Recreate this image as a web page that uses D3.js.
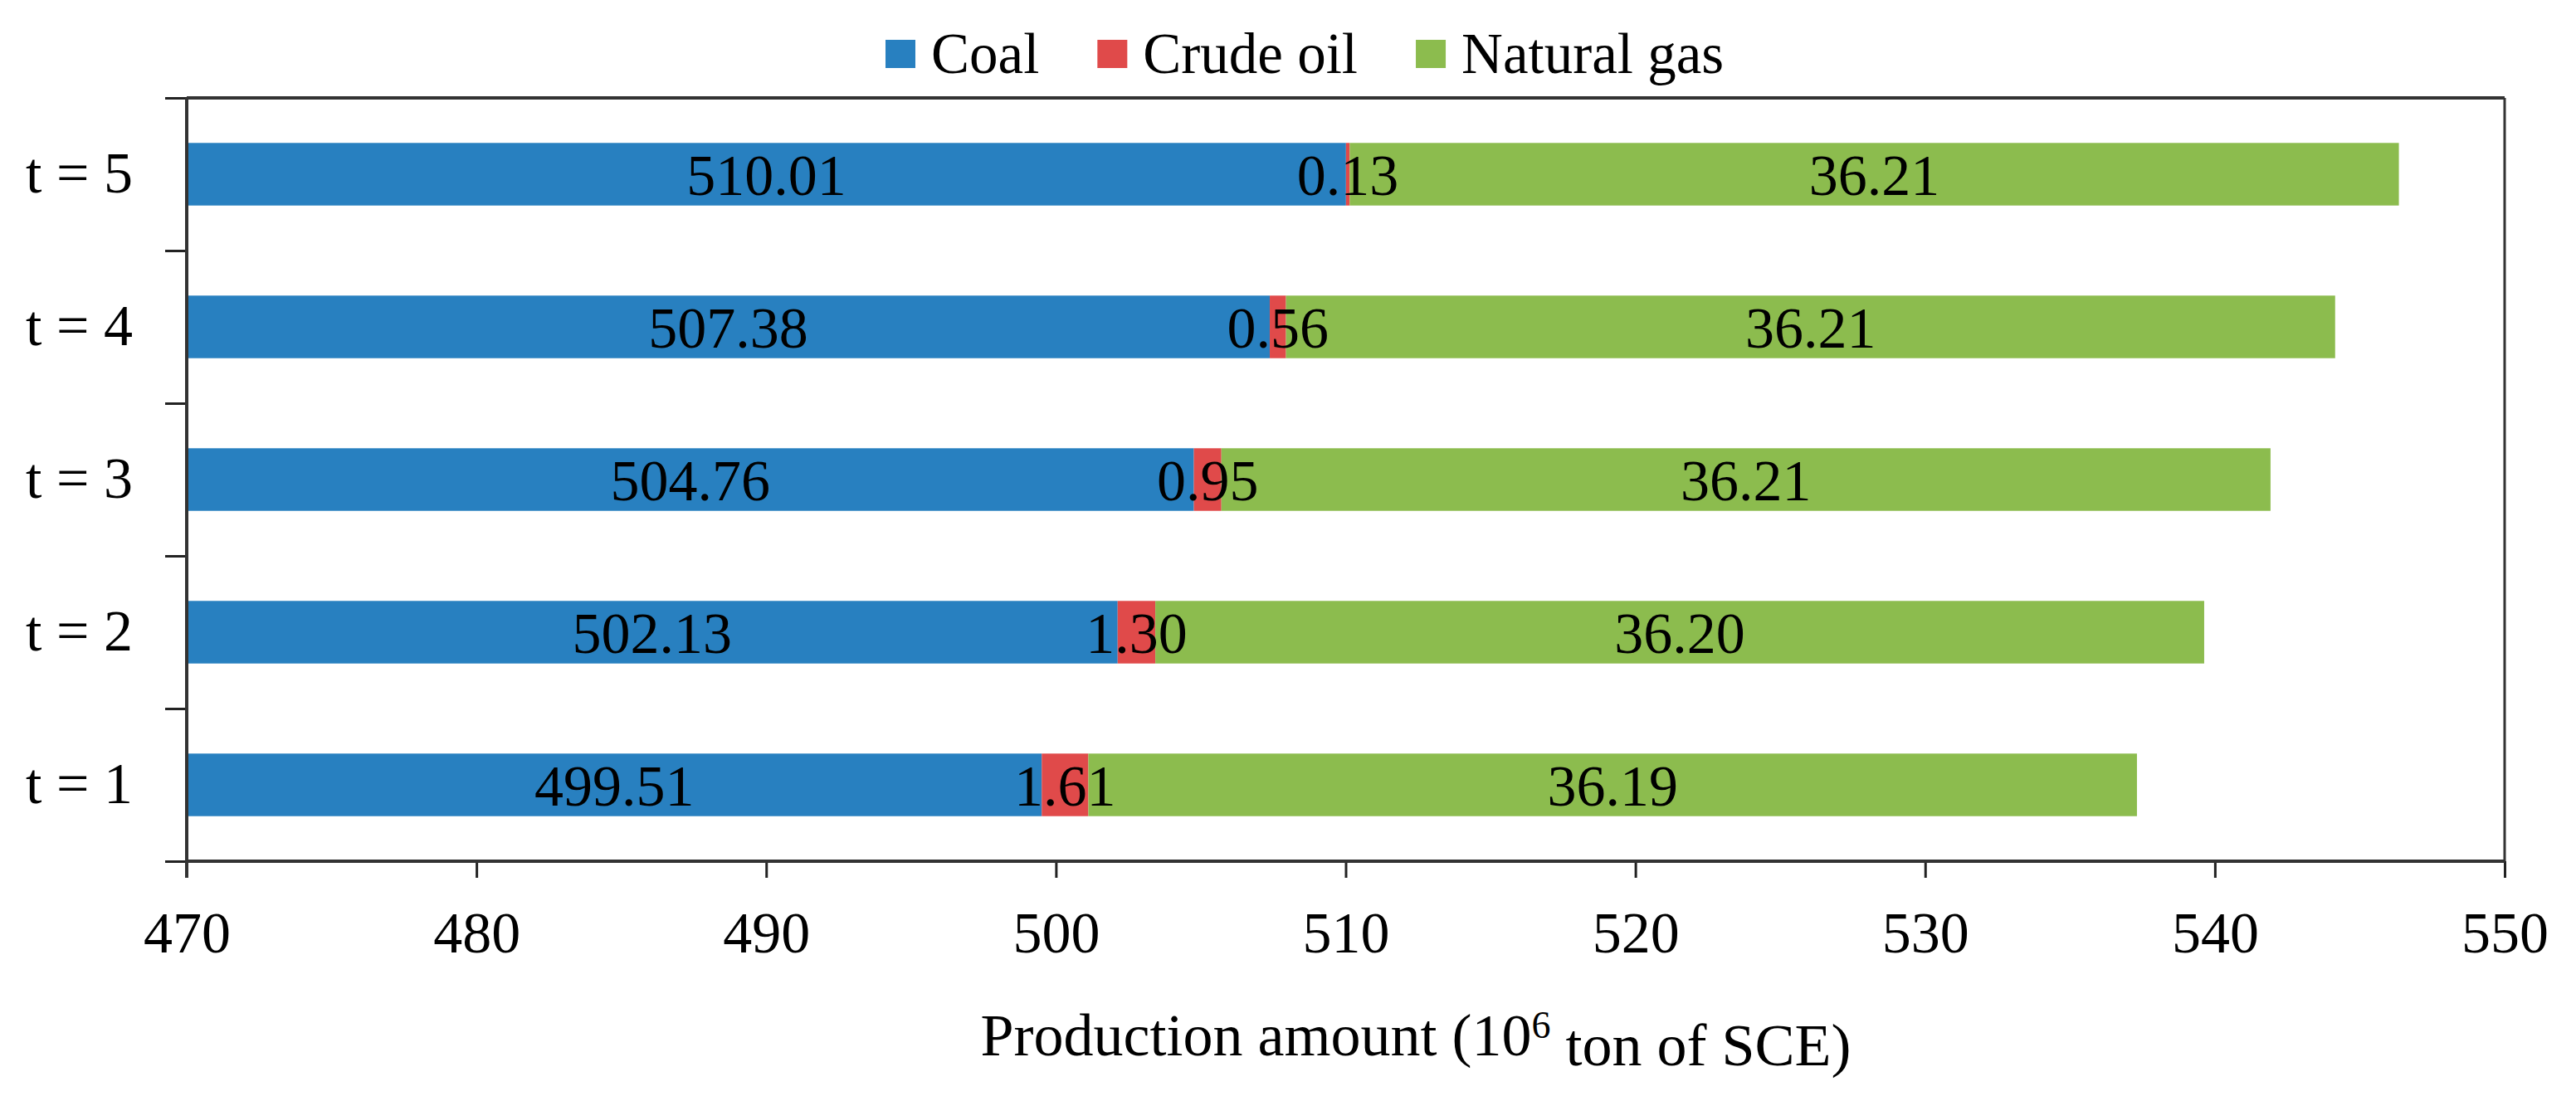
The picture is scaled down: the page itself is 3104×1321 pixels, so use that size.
<!DOCTYPE html>
<html>
<head>
<meta charset="utf-8">
<script src="https://cdn.jsdelivr.net/npm/d3@7"></script>
<style>
  body { margin: 0; background: #fff; }
  text { font-family: "Liberation Serif", "Times New Roman", serif; fill: #000; }
</style>
</head>
<body>
<div id="chart"></div>
<script>
// data, t = 1 .. 5
const periods = ["t = 1", "t = 2", "t = 3", "t = 4", "t = 5"];
const coal = [499.51, 502.13, 504.76, 507.38, 510.01];
const crudeOil = [1.61, 1.30, 0.95, 0.56, 0.13];
const naturalGas = [36.19, 36.20, 36.21, 36.21, 36.21];
const seriesNames = ["Coal", "Crude oil", "Natural gas"];
const seriesKeys = ["coal", "oil", "gas"];
const colors = ["#2880c0", "#e04a4a", "#8cbc4e"];
const xTicks = [470, 480, 490, 500, 510, 520, 530, 540, 550];

const svgWidth = 3104, svgHeight = 1321;
const margin = {top: 118, right: 86, bottom: 283, left: 225};
const width = svgWidth - margin.left - margin.right;
const height = svgHeight - margin.top - margin.bottom;
const fontSize = 70;

const rows = periods.map((p, i) => ({period: p, coal: coal[i], oil: crudeOil[i], gas: naturalGas[i]}));
const stacked = d3.stack().keys(seriesKeys)(rows);

const x = d3.scaleLinear().domain([xTicks[0], xTicks[xTicks.length - 1]]).range([0, width]);
const y = d3.scaleBand().domain(periods.slice().reverse()).range([0, height])
    .paddingInner(0.59).paddingOuter(0.295);
const yEdges = d3.scaleLinear().domain([0, periods.length]).range([height, 0]);
const color = d3.scaleOrdinal().domain(seriesKeys).range(colors);

const svg = d3.select("#chart").append("svg")
    .attr("width", svgWidth)
    .attr("height", svgHeight);

svg.append("defs").append("clipPath").attr("id", "plot-clip")
  .append("rect").attr("width", width).attr("height", height);

const g = svg.append("g")
    .attr("transform", `translate(${margin.left},${margin.top})`);

// BARS
const layers = g.append("g").attr("clip-path", "url(#plot-clip)")
  .selectAll("g.layer")
  .data(stacked)
  .join("g")
    .attr("class", "layer")
    .attr("fill", d => color(d.key));

layers.selectAll("rect")
  .data(d => d)
  .join("rect")
    .attr("x", d => x(Math.max(d[0], x.domain()[0])))
    .attr("width", d => x(d[1]) - x(Math.max(d[0], x.domain()[0])))
    .attr("y", d => y(d.data.period))
    .attr("height", y.bandwidth());

// value labels, centred on the visible part of each segment
const fmt = d3.format(".2f");
const labelData = [];
stacked.forEach(s => s.forEach(d => labelData.push({
    x0: Math.max(d[0], x.domain()[0]), x1: d[1],
    period: d.data.period, value: d[1] - d[0]
})));

g.append("g").selectAll("text")
  .data(labelData)
  .join("text")
    .attr("x", d => (x(d.x0) + x(d.x1)) / 2)
    .attr("y", d => y(d.period) + y.bandwidth() / 2)
    .attr("dy", "0.35em")
    .attr("text-anchor", "middle")
    .style("font-size", fontSize + "px")
    .text(d => fmt(d.value));

// AXES
const xAxis = d3.axisBottom(x).tickValues(xTicks).tickSize(20).tickPadding(40).tickFormat(d3.format("d"));
const gX = g.append("g").attr("class", "axis-x")
    .attr("transform", `translate(0,${height})`)
    .call(xAxis);
gX.select(".domain").remove();
gX.selectAll(".tick line").attr("stroke", "#222").attr("stroke-width", 3);
gX.selectAll(".tick text").style("font-size", fontSize + "px");

// category boundary ticks
const gEdges = g.append("g")
    .call(d3.axisLeft(yEdges).ticks(periods.length).tickSize(26).tickFormat(""));
gEdges.select(".domain").remove();
gEdges.selectAll(".tick line").attr("stroke", "#222").attr("stroke-width", 3);

const gY = g.append("g").attr("class", "axis-y")
    .call(d3.axisLeft(y).tickSize(0).tickPadding(65));
gY.select(".domain").remove();
gY.selectAll(".tick text").style("font-size", fontSize + "px");

// frame
const frame = g.append("g").attr("fill", "none").attr("stroke", "#333");
frame.append("line").attr("x1", 0).attr("x2", width).attr("y1", 0).attr("y2", 0).attr("stroke-width", 4);
frame.append("line").attr("x1", 0).attr("x2", width).attr("y1", height).attr("y2", height).attr("stroke-width", 4);
frame.append("line").attr("x1", 0).attr("x2", 0).attr("y1", 0).attr("y2", height + 20).attr("stroke-width", 4);
frame.append("line").attr("x1", width).attr("x2", width).attr("y1", 0).attr("y2", height).attr("stroke-width", 3);

// axis title
const title = svg.append("text")
    .attr("x", 1706)
    .attr("y", 1272)
    .attr("text-anchor", "middle")
    .style("font-size", "72px");
title.append("tspan").text("Production amount (10");
title.append("tspan").attr("dy", "-0.45em").style("font-size", "46px").text("6");
title.append("tspan").attr("dy", "0.45em").text(" ton of SCE)");

// LEGEND
const legend = svg.append("g").attr("transform", "translate(1067,0)");
let lx = 0;
seriesNames.forEach((name, i) => {
    legend.append("rect")
        .attr("x", lx).attr("y", 48)
        .attr("width", 36).attr("height", 34)
        .attr("fill", colors[i]);
    const t = legend.append("text")
        .attr("x", lx + 55).attr("y", 88)
        .style("font-size", "69px")
        .text(name);
    lx += 55 + t.node().getComputedTextLength() + 70;
});
</script>
</body>
</html>
